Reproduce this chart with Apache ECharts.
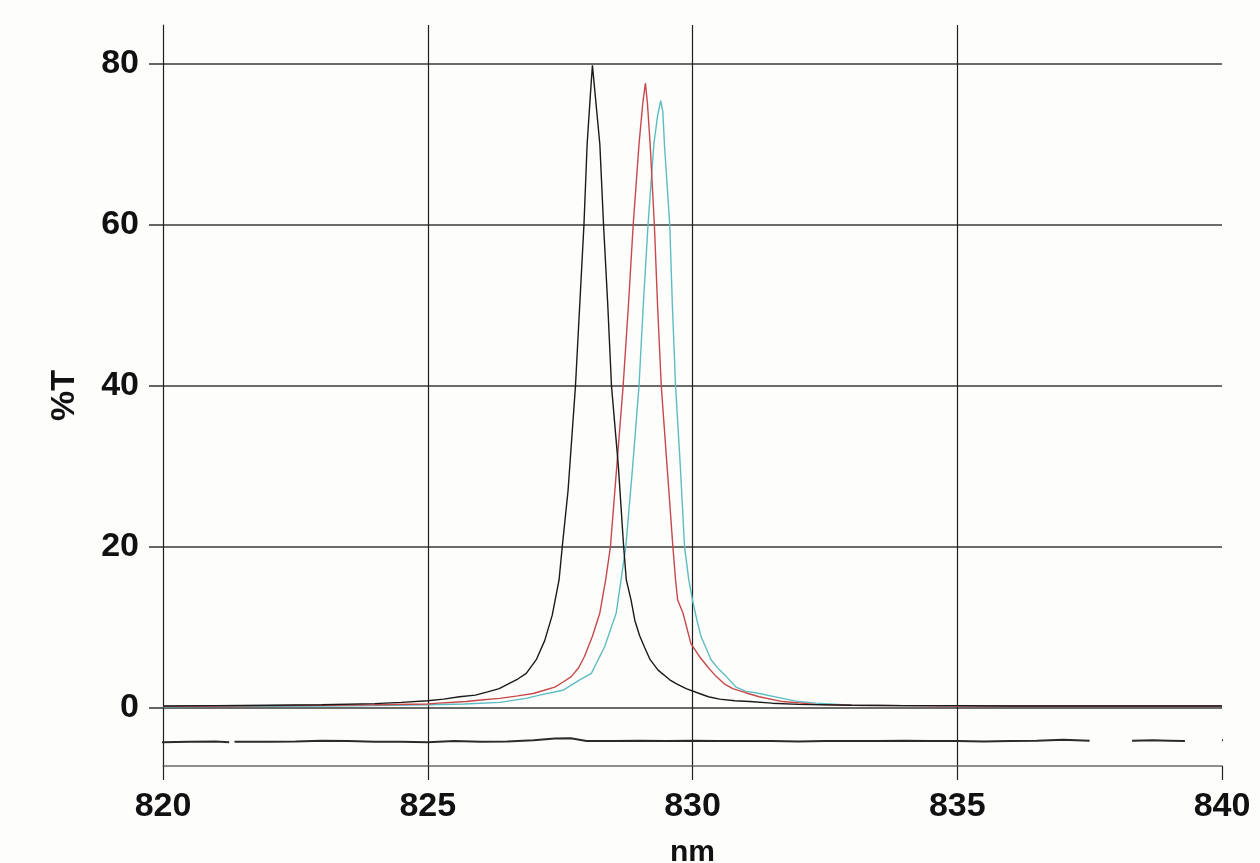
<!DOCTYPE html>
<html>
<head>
<meta charset="utf-8">
<script src="https://cdn.jsdelivr.net/npm/echarts@6/dist/echarts.min.js"></script>
<style>
html,body{margin:0;padding:0;background:#fdfdfc;}
#chart{width:1260px;height:863px;}
</style>
</head>
<body>
<div id="chart"></div>
<script>
// Tick labels
const xTicks = [820, 825, 830, 835, 840];
const yTicks = [0, 20, 40, 60, 80];

// Black trace (wavelength nm, %T)
const blackX = [820, 821, 822, 823, 824, 824.5, 825, 825.3, 825.6, 825.9, 826.13, 826.35, 826.55, 826.7, 826.86, 827.05, 827.21, 827.35, 827.48, 827.54, 827.65, 827.79, 827.87, 827.95, 828.01, 828.07, 828.11, 828.15, 828.25, 828.32, 828.4, 828.47, 828.6, 828.7, 828.75, 828.84, 828.91, 829.0, 829.09, 829.2, 829.35, 829.57, 829.7, 829.88, 830.13, 830.3, 830.51, 830.8, 831.08, 831.5, 832, 833, 834, 835, 836, 837, 838, 839, 840];
const blackY = [0.25, 0.3, 0.35, 0.4, 0.55, 0.7, 0.9, 1.1, 1.4, 1.6, 2.0, 2.4, 3.1, 3.6, 4.3, 6.0, 8.4, 11.5, 15.9, 20, 27, 40, 50, 60, 70, 76, 79.8, 77, 70, 60, 50, 40, 30, 20, 15.9, 13.4, 10.9, 9.0, 7.6, 6.0, 4.7, 3.5, 3.0, 2.4, 1.8, 1.4, 1.1, 0.9, 0.8, 0.6, 0.45, 0.35, 0.3, 0.3, 0.25, 0.25, 0.25, 0.25, 0.25];

// Red trace
const redX = [820, 821, 822, 823, 824, 825, 825.2, 825.73, 826.0, 826.36, 826.7, 826.99, 827.2, 827.4, 827.55, 827.71, 827.85, 827.96, 828.11, 828.25, 828.36, 828.45, 828.57, 828.69, 828.79, 828.88, 828.99, 829.06, 829.11, 829.15, 829.2, 829.28, 829.34, 829.41, 829.52, 829.63, 829.68, 829.72, 829.82, 829.97, 830.13, 830.3, 830.45, 830.6, 830.76, 831.0, 831.26, 831.7, 832.33, 833, 834, 835, 836, 837, 838, 839, 840];
const redY = [0.2, 0.25, 0.3, 0.35, 0.4, 0.5, 0.6, 0.8, 1.0, 1.2, 1.5, 1.8, 2.2, 2.6, 3.2, 3.9, 5.0, 6.4, 8.9, 11.8, 15.9, 20, 30, 40, 50, 60, 70, 75, 77.6, 75, 70, 60, 50, 40, 30, 20, 15.9, 13.4, 11.8, 8.0, 6.4, 5.0, 3.9, 3.0, 2.4, 1.9, 1.4, 0.8, 0.45, 0.35, 0.3, 0.25, 0.25, 0.25, 0.25, 0.25, 0.25];

// Cyan trace
const cyanX = [820, 821, 822, 823, 824, 825, 825.7, 826.36, 826.86, 827.11, 827.55, 827.87, 828.09, 828.34, 828.56, 828.65, 828.74, 828.87, 828.99, 829.07, 829.16, 829.27, 829.34, 829.4, 829.44, 829.47, 829.52, 829.57, 829.62, 829.68, 829.77, 829.85, 829.93, 830.0, 830.08, 830.16, 830.35, 830.5, 830.64, 830.82, 831.0, 831.26, 831.7, 832.0, 832.33, 833, 834, 835, 836, 837, 838, 839, 840];
const cyanY = [0.15, 0.2, 0.2, 0.25, 0.3, 0.4, 0.5, 0.7, 1.2, 1.6, 2.2, 3.5, 4.3, 7.6, 11.8, 15.9, 20, 30, 40, 50, 60, 70, 73.5, 75.4, 74, 70, 65, 60, 50, 40, 30, 20, 15.9, 13.4, 11.0, 8.9, 6.0, 4.8, 3.9, 2.6, 2.1, 1.8, 1.2, 0.8, 0.6, 0.35, 0.3, 0.25, 0.25, 0.25, 0.25, 0.25, 0.25];

// Lower baseline trace (below zero), with gaps
const baseX = [816.9, 817.5, 818, 818.5, 819, 819.5, 820, 820.5, 821, 821.25, 821.3, 821.35, 822, 822.5, 823, 823.5, 824, 824.5, 825, 825.5, 826, 826.5, 827, 827.4, 827.7, 828, 828.5, 829, 829.5, 830, 830.5, 831, 831.5, 832, 832.5, 833, 833.5, 834, 834.5, 835, 835.5, 836, 836.5, 837, 837.5, 837.9, 838.3, 838.7, 839, 839.3, 839.6, 840, 840.3, 840.7];
const baseY = [-4.3, -4.25, -4.2, -4.25, -4.3, -4.2, -4.25, -4.2, -4.15, -4.25, null, -4.2, -4.2, -4.15, -4.05, -4.1, -4.2, -4.2, -4.25, -4.1, -4.2, -4.15, -4.0, -3.8, -3.75, -4.1, -4.1, -4.05, -4.1, -4.05, -4.1, -4.1, -4.1, -4.15, -4.1, -4.1, -4.1, -4.05, -4.1, -4.1, -4.15, -4.1, -4.05, -3.95, -4.05, null, -4.05, -4.0, -4.05, -4.1, null, -4.0, -4.05, -4.0];

function pairs(xs, ys) { return xs.map((x, i) => [x, ys[i]]); }

const chart = echarts.init(document.getElementById('chart'), null, { renderer: 'canvas' });
const fontFam = '"Liberation Sans", Arial, sans-serif';

chart.setOption({
  backgroundColor: '#fdfdfc',
  animation: false,
  grid: { left: 163, right: 38, top: 25, bottom: 97, containLabel: false, outerBoundsMode: 'none' },
  xAxis: {
    type: 'value',
    min: xTicks[0],
    max: xTicks[xTicks.length - 1],
    interval: 5,
    name: 'nm',
    nameLocation: 'middle',
    nameGap: 72,
    nameTextStyle: { fontFamily: fontFam, fontWeight: 'bold', fontSize: 30, color: '#111' },
    axisLine: { show: true, onZero: false, lineStyle: { color: '#6a6a6a', width: 1.5 } },
    axisTick: { show: true, inside: false, length: 14, lineStyle: { color: '#222', width: 1.2 } },
    axisLabel: { margin: 24, fontFamily: fontFam, fontWeight: 'bold', fontSize: 34, color: '#111' },
    splitLine: { show: true, showMinLine: false, showMaxLine: false, lineStyle: { color: '#1e1e1e', width: 1.2 } }
  },
  yAxis: {
    type: 'value',
    min: -7.2,
    max: 84.8,
    splitNumber: 5,
    name: '%T',
    nameLocation: 'middle',
    nameRotate: 90,
    nameGap: 81,
    nameTextStyle: { fontFamily: fontFam, fontWeight: 'bold', fontSize: 34, color: '#111' },
    axisLine: { show: true, onZero: false, lineStyle: { color: '#1e1e1e', width: 1.2 } },
    axisTick: { show: true, length: 14, customValues: yTicks, lineStyle: { color: '#333', width: 1.5 } },
    axisLabel: {
      margin: 24, fontFamily: fontFam, fontWeight: 'bold', fontSize: 34, color: '#111',
      customValues: yTicks,
      formatter: v => (yTicks.indexOf(v) >= 0 ? String(v) : '')
    },
    splitLine: { show: true, lineStyle: { color: '#3a3a3a', width: 1.5 } }
  },
  series: [
    { name: 'base', type: 'line', data: pairs(baseX, baseY), showSymbol: false, clip: false, connectNulls: false,
      lineStyle: { color: '#2b2b2b', width: 2 }, z: 3 },
    { name: 'cyan', type: 'line', data: pairs(cyanX, cyanY), showSymbol: false,
      lineStyle: { color: '#5cbcc2', width: 1.4 }, z: 4 },
    { name: 'red', type: 'line', data: pairs(redX, redY), showSymbol: false,
      lineStyle: { color: '#c8474a', width: 1.4 }, z: 5 },
    { name: 'black', type: 'line', data: pairs(blackX, blackY), showSymbol: false,
      lineStyle: { color: '#1a1a1a', width: 1.4 }, z: 6 }
  ]
});
</script>
</body>
</html>
